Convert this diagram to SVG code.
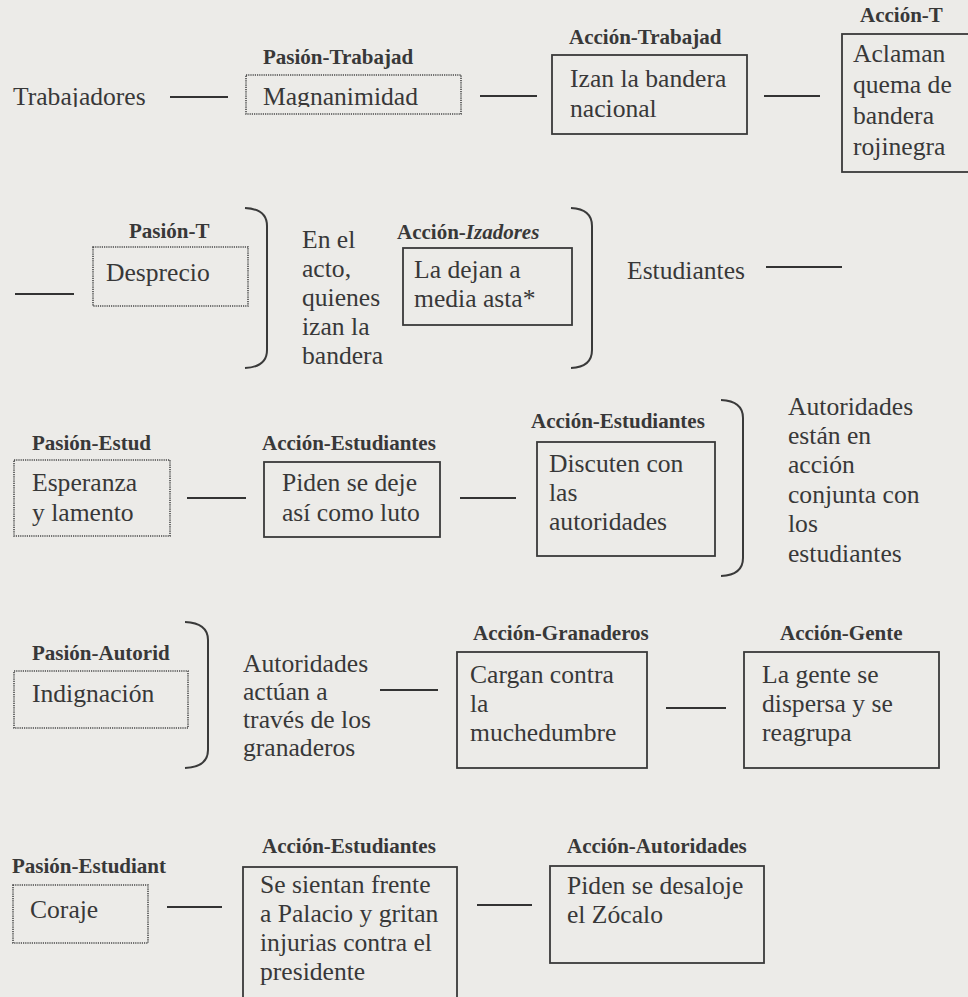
<svg xmlns="http://www.w3.org/2000/svg" width="968" height="997" viewBox="0 0 968 997">
  <defs>
    <style>
      .bg { fill: #ecebe8; }
      .txt { font-family: 'Liberation Serif', 'DejaVu Serif', serif; font-size: 25.6px; fill: #383838; }
      .lbl { font-family: 'Liberation Serif', 'DejaVu Serif', serif; font-size: 21px; font-weight: bold; fill: #383838; }
      .act { fill: none; stroke: #3a3a3a; stroke-width: 1.8; }
      .pas { fill: none; stroke: #4a4a4a; stroke-width: 1.6; stroke-dasharray: 1.2 1; }
      .link { stroke: #333333; stroke-width: 2; }
      .brace { fill: none; stroke: #3a3a3a; stroke-width: 2; }
    </style>
    <!-- first line of row 1 is cut just below the baseline -->
    <clipPath id="rowCut">
      <rect x="0" y="0" width="968" height="107"/>
    </clipPath>
  </defs>

  <rect class="bg" x="0" y="0" width="968" height="997"/>

  <!-- connectors -->
  <g id="connectors">
    <line class="link" x1="170" y1="97" x2="228" y2="97"/>
    <line class="link" x1="480" y1="96" x2="537" y2="96"/>
    <line class="link" x1="764" y1="96" x2="820" y2="96"/>
    <line class="link" x1="15" y1="294" x2="74" y2="294"/>
    <line class="link" x1="766" y1="267" x2="842" y2="267"/>
    <line class="link" x1="187" y1="498" x2="246" y2="498"/>
    <line class="link" x1="460" y1="498" x2="516" y2="498"/>
    <line class="link" x1="380" y1="690" x2="438" y2="690"/>
    <line class="link" x1="666" y1="708" x2="726" y2="708"/>
    <line class="link" x1="167" y1="907" x2="222" y2="907"/>
    <line class="link" x1="477" y1="905" x2="532" y2="905"/>
  </g>

  <g font-family="Liberation Serif, DejaVu Serif, serif">
  <!-- row 1 -->
  <g id="trabajadores">
    <text class="txt" x="13" y="105" clip-path="url(#rowCut)">Trabajadores</text>
  </g>
  <g id="pasion-trabajad">
    <text class="lbl" x="263" y="64">Pasión-Trabajad</text>
    <rect class="pas" x="246" y="75" width="215" height="39"/>
    <text class="txt" x="263" y="105" clip-path="url(#rowCut)">Magnanimidad</text>
  </g>
  <g id="accion-trabajad">
    <text class="lbl" x="569" y="44">Acción-Trabajad</text>
    <rect class="act" x="552" y="55" width="195" height="79"/>
    <text class="txt" x="570" y="87">Izan la bandera</text>
    <text class="txt" x="570" y="117">nacional</text>
  </g>
  <g id="accion-t">
    <text class="lbl" x="860" y="22">Acción-T</text>
    <rect class="act" x="842" y="34" width="140" height="138"/>
    <text class="txt" x="853" y="62">Aclaman</text>
    <text class="txt" x="853" y="93">quema de</text>
    <text class="txt" x="853" y="124">bandera</text>
    <text class="txt" x="853" y="155">rojinegra</text>
  </g>

  <!-- row 2 -->
  <g id="pasion-t">
    <text class="lbl" x="129" y="238">Pasión-T</text>
    <rect class="pas" x="93" y="247" width="155" height="59"/>
    <text class="txt" x="106" y="281">Desprecio</text>
  </g>
  <g id="en-el-acto">
    <path class="brace" d="M245,208 Q267,209 267,226 L267,350 Q267,367 245,368"/>
    <text class="txt" x="302" y="248">En el</text>
    <text class="txt" x="302" y="277">acto,</text>
    <text class="txt" x="302" y="306">quienes</text>
    <text class="txt" x="302" y="335">izan la</text>
    <text class="txt" x="302" y="364">bandera</text>
  </g>
  <g id="accion-izadores">
    <text class="lbl" x="397" y="239">Acción-<tspan font-style="italic">Izadores</tspan></text>
    <rect class="act" x="403" y="248" width="169" height="77"/>
    <text class="txt" x="414" y="278">La dejan a</text>
    <text class="txt" x="414" y="307">media asta*</text>
  </g>
  <g id="estudiantes">
    <path class="brace" d="M571,208 Q592,209 592,226 L592,350 Q592,367 571,368"/>
    <text class="txt" x="627" y="279">Estudiantes</text>
  </g>

  <!-- row 3 -->
  <g id="pasion-estud">
    <text class="lbl" x="32" y="450">Pasión-Estud</text>
    <rect class="pas" x="14" y="460" width="156" height="76"/>
    <text class="txt" x="32" y="491">Esperanza</text>
    <text class="txt" x="32" y="521">y lamento</text>
  </g>
  <g id="accion-estudiantes-1">
    <text class="lbl" x="262" y="450">Acción-Estudiantes</text>
    <rect class="act" x="264" y="462" width="176" height="75"/>
    <text class="txt" x="282" y="491">Piden se deje</text>
    <text class="txt" x="282" y="521">así como luto</text>
  </g>
  <g id="accion-estudiantes-2">
    <text class="lbl" x="531" y="428">Acción-Estudiantes</text>
    <rect class="act" x="537" y="442" width="178" height="114"/>
    <text class="txt" x="549" y="472">Discuten con</text>
    <text class="txt" x="549" y="501">las</text>
    <text class="txt" x="549" y="530">autoridades</text>
  </g>
  <g id="autoridades-conjunta">
    <path class="brace" d="M721,400 Q743,401 743,418 L743,558 Q743,575 721,576"/>
    <text class="txt" x="788" y="415">Autoridades</text>
    <text class="txt" x="788" y="444">están en</text>
    <text class="txt" x="788" y="473">acción</text>
    <text class="txt" x="788" y="503">conjunta con</text>
    <text class="txt" x="788" y="532">los</text>
    <text class="txt" x="788" y="562">estudiantes</text>
  </g>

  <!-- row 4 -->
  <g id="pasion-autorid">
    <text class="lbl" x="32" y="660">Pasión-Autorid</text>
    <rect class="pas" x="14" y="671" width="174" height="57"/>
    <text class="txt" x="32" y="702">Indignación</text>
  </g>
  <g id="autoridades-granaderos">
    <path class="brace" d="M185,622 Q208,623 208,640 L208,750 Q208,767 185,768"/>
    <text class="txt" x="243" y="672">Autoridades</text>
    <text class="txt" x="243" y="700">actúan a</text>
    <text class="txt" x="243" y="728">través de los</text>
    <text class="txt" x="243" y="756">granaderos</text>
  </g>
  <g id="accion-granaderos">
    <text class="lbl" x="473" y="640">Acción-Granaderos</text>
    <rect class="act" x="457" y="652" width="190" height="116"/>
    <text class="txt" x="470" y="683">Cargan contra</text>
    <text class="txt" x="470" y="712">la</text>
    <text class="txt" x="470" y="741">muchedumbre</text>
  </g>
  <g id="accion-gente">
    <text class="lbl" x="780" y="640">Acción-Gente</text>
    <rect class="act" x="744" y="652" width="195" height="116"/>
    <text class="txt" x="762" y="683">La gente se</text>
    <text class="txt" x="762" y="712">dispersa y se</text>
    <text class="txt" x="762" y="741">reagrupa</text>
  </g>

  <!-- row 5 -->
  <g id="pasion-estudiant">
    <text class="lbl" x="12" y="873">Pasión-Estudiant</text>
    <rect class="pas" x="13" y="885" width="135" height="58"/>
    <text class="txt" x="30" y="918">Coraje</text>
  </g>
  <g id="accion-estudiantes-3">
    <text class="lbl" x="262" y="853">Acción-Estudiantes</text>
    <rect class="act" x="243" y="867" width="214" height="140"/>
    <text class="txt" x="260" y="893">Se sientan frente</text>
    <text class="txt" x="260" y="922">a Palacio y gritan</text>
    <text class="txt" x="260" y="951">injurias contra el</text>
    <text class="txt" x="260" y="980">presidente</text>
  </g>
  <g id="accion-autoridades">
    <text class="lbl" x="567" y="853">Acción-Autoridades</text>
    <rect class="act" x="550" y="866" width="214" height="97"/>
    <text class="txt" x="567" y="894">Piden se desaloje</text>
    <text class="txt" x="567" y="923">el Zócalo</text>
  </g>
  </g>
</svg>
